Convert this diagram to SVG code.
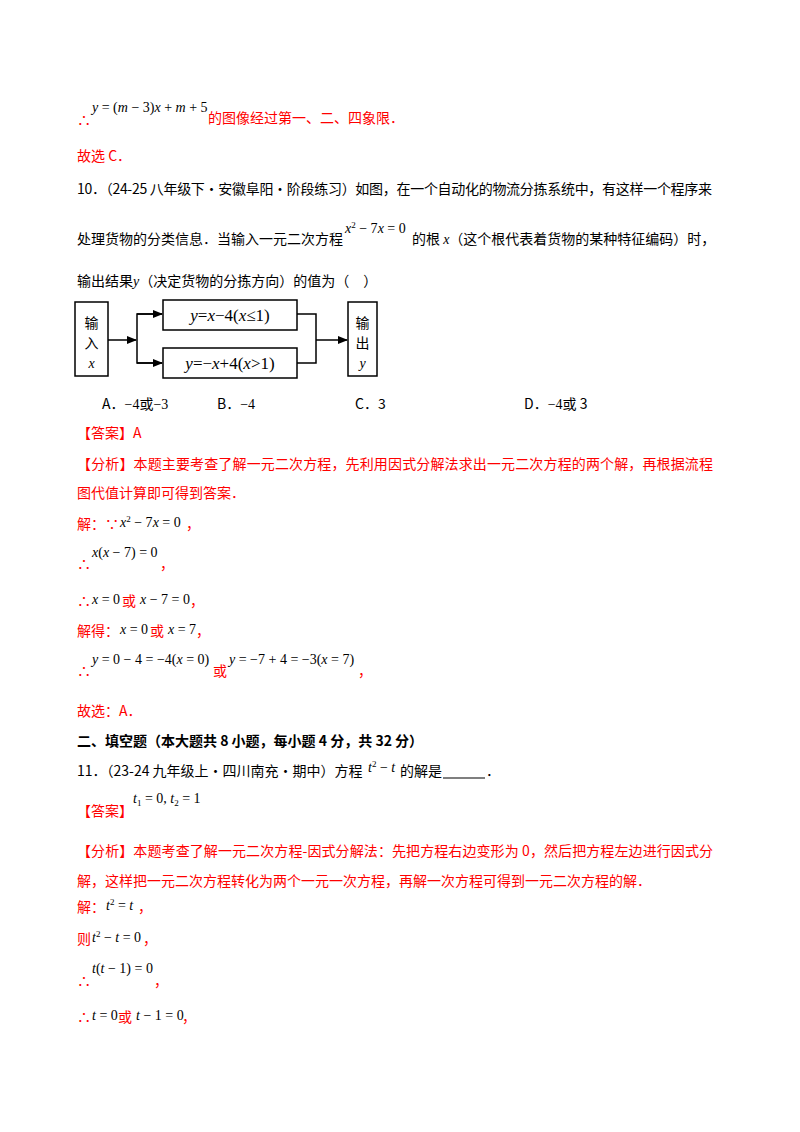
<svg xmlns="http://www.w3.org/2000/svg" width="800" height="1132" viewBox="0 0 800 1132">
<style>
text{font-family:"Noto Sans CJK SC","Noto Sans",sans-serif;font-size:14px;fill:#000}
.r{fill:#f00}
.m{font-family:"Liberation Serif","Noto Sans CJK SC",serif;font-size:14px;fill:#000}
.i{font-style:italic}
.b{font-weight:bold}
.box{fill:#fff;stroke:#000;stroke-width:1.5}
.ln{fill:none;stroke:#000;stroke-width:1.5}
</style>
<defs><marker id="ah" markerWidth="10" markerHeight="8" refX="9" refY="4" orient="auto" markerUnits="userSpaceOnUse"><path d="M0,0L10,4L0,8z" fill="#000"/></marker></defs>
<rect width="800" height="1132" fill="#fff"/>
<text x="77" y="125" class="r">∴</text>
<text x="92" y="112" class="m"><tspan class="i">y</tspan> = (<tspan class="i">m</tspan> − 3)<tspan class="i">x</tspan> + <tspan class="i">m</tspan> + 5</text>
<text x="208" y="123" class="r">的图像经过第一、二、四象限．</text>
<text x="77" y="161" class="r">故选 C．</text>
<text x="77" y="194" textLength="635">10．（24-25 八年级下·安徽阜阳·阶段练习）如图，在一个自动化的物流分拣系统中，有这样一个程序来</text>
<text x="77" y="244">处理货物的分类信息．当输入一元二次方程</text>
<text x="345" y="233" class="m"><tspan class="i">x</tspan><tspan font-size="9" dy="-5">2</tspan><tspan dy="5"> − 7</tspan><tspan class="i">x</tspan> = 0</text>
<text x="412" y="244">的根 <tspan class="m i">x</tspan>（这个根代表着货物的某种特征编码）时，</text>
<text x="77" y="286">输出结果<tspan class="m i">y</tspan>（决定货物的分拣方向）的值为（　）</text>
<g id="connectors">
<line x1="108" y1="340" x2="136" y2="340" class="ln" marker-end="url(#ah)"/>
<polyline points="162,314 137,314 137,363 162,363" class="ln"/>
<line x1="137" y1="314" x2="162" y2="314" class="ln" marker-end="url(#ah)"/>
<line x1="137" y1="363" x2="162" y2="363" class="ln" marker-end="url(#ah)"/>
<polyline points="297,314 316,314 316,363 297,363" class="ln"/>
<line x1="316" y1="340" x2="347" y2="340" class="ln" marker-end="url(#ah)"/>
</g>
<g id="input"><rect x="75" y="302" width="33" height="74" class="box"/>
<text x="91.5" y="328" text-anchor="middle" font-size="16">输</text><text x="91.5" y="348" text-anchor="middle" font-size="16">入</text><text x="91.5" y="368" text-anchor="middle" class="m i" font-size="17">x</text></g>
<g id="f1"><rect x="163" y="300" width="134" height="30" class="box"/>
<text x="230" y="321" text-anchor="middle" class="m" style="font-size:17px"><tspan class="i">y</tspan>=<tspan class="i">x</tspan>−4(<tspan class="i">x</tspan>≤1)</text></g>
<g id="f2"><rect x="163" y="348" width="134" height="30" class="box"/>
<text x="230" y="369" text-anchor="middle" class="m" style="font-size:17px"><tspan class="i">y</tspan>=−<tspan class="i">x</tspan>+4(<tspan class="i">x</tspan>&gt;1)</text></g>
<g id="output"><rect x="348" y="302" width="29" height="74" class="box"/>
<text x="362.5" y="328" text-anchor="middle" font-size="16">输</text><text x="362.5" y="348" text-anchor="middle" font-size="16">出</text><text x="362.5" y="368" text-anchor="middle" class="m i" font-size="17">y</text></g>
<text x="102" y="409">A．<tspan class="m">−4</tspan>或<tspan class="m">−3</tspan></text>
<text x="217" y="409">B．<tspan class="m">−4</tspan></text>
<text x="355" y="409">C．3</text>
<text x="524" y="409">D．<tspan class="m">−4</tspan>或 3</text>
<text x="77" y="438" class="r">【答案】A</text>
<text x="77" y="469" class="r" textLength="636">【分析】本题主要考查了解一元二次方程，先利用因式分解法求出一元二次方程的两个解，再根据流程</text>
<text x="77" y="498" class="r">图代值计算即可得到答案．</text>
<text x="77" y="529" class="r">解：∵</text>
<text x="120" y="527" class="m"><tspan class="i">x</tspan><tspan font-size="9" dy="-5">2</tspan><tspan dy="5"> − 7</tspan><tspan class="i">x</tspan> = 0</text><text x="186" y="529" class="r">，</text>
<text x="77" y="569" class="r">∴</text>
<text x="92" y="557" class="m"><tspan class="i">x</tspan>(<tspan class="i">x</tspan> − 7) = 0</text><text x="160" y="569" class="r">，</text>
<text x="77" y="606" class="r">∴</text>
<text x="92" y="604" class="m"><tspan class="i">x</tspan> = 0</text><text x="122" y="606" class="r">或</text><text x="140" y="604" class="m"><tspan class="i">x</tspan> − 7 = 0</text><text x="190" y="606" class="r">，</text>
<text x="77" y="636" class="r">解得：</text>
<text x="120" y="634" class="m"><tspan class="i">x</tspan> = 0</text><text x="150" y="636" class="r">或</text><text x="168" y="634" class="m"><tspan class="i">x</tspan> = 7</text><text x="196" y="636" class="r">，</text>
<text x="77" y="676" class="r">∴</text>
<text x="92" y="664" class="m"><tspan class="i">y</tspan> = 0 − 4 = −4(<tspan class="i">x</tspan> = 0)</text><text x="213" y="676" class="r">或</text><text x="229" y="664" class="m"><tspan class="i">y</tspan> = −7 + 4 = −3(<tspan class="i">x</tspan> = 7)</text><text x="358" y="676" class="r">，</text>
<text x="77" y="716" class="r">故选：A．</text>
<text x="77" y="746" class="b">二、填空题（本大题共 8 小题，每小题 4 分，共 32 分）</text>
<text x="77" y="776">11．（23-24 九年级上·四川南充·期中）方程</text><text x="368" y="772" class="m"><tspan class="i">t</tspan><tspan font-size="9" dy="-5">2</tspan><tspan dy="5"> − </tspan><tspan class="i">t</tspan></text><text x="400" y="776">的解是</text><line x1="443" y1="778" x2="485" y2="778" stroke="#000" stroke-width="1.2"/><text x="486" y="776">．</text>
<text x="77" y="816" class="r">【答案】</text>
<text x="133" y="803" class="m"><tspan class="i">t</tspan><tspan font-size="9" dy="3">1</tspan><tspan dy="-3"> = 0, </tspan><tspan class="i">t</tspan><tspan font-size="9" dy="3">2</tspan><tspan dy="-3"> = 1</tspan></text>
<text x="77" y="856" class="r" textLength="636">【分析】本题考查了解一元二次方程-因式分解法：先把方程右边变形为 0，然后把方程左边进行因式分</text>
<text x="77" y="886" class="r">解，这样把一元二次方程转化为两个一元一次方程，再解一次方程可得到一元二次方程的解．</text>
<text x="77" y="912" class="r">解：</text><text x="106" y="910" class="m"><tspan class="i">t</tspan><tspan font-size="9" dy="-5">2</tspan><tspan dy="5"> = </tspan><tspan class="i">t</tspan></text><text x="138" y="912" class="r">，</text>
<text x="77" y="944" class="r">则</text><text x="92" y="942" class="m"><tspan class="i">t</tspan><tspan font-size="9" dy="-5">2</tspan><tspan dy="5"> − </tspan><tspan class="i">t</tspan> = 0</text><text x="143" y="944" class="r">，</text>
<text x="77" y="986" class="r">∴</text><text x="92" y="973" class="m"><tspan class="i">t</tspan>(<tspan class="i">t</tspan> − 1) = 0</text><text x="154" y="986" class="r">，</text>
<text x="77" y="1022" class="r">∴</text><text x="92" y="1020" class="m"><tspan class="i">t</tspan> = 0</text><text x="118" y="1022" class="r">或</text><text x="136" y="1020" class="m"><tspan class="i">t</tspan> − 1 = 0</text><text x="182" y="1022" class="r">，</text>
</svg>
